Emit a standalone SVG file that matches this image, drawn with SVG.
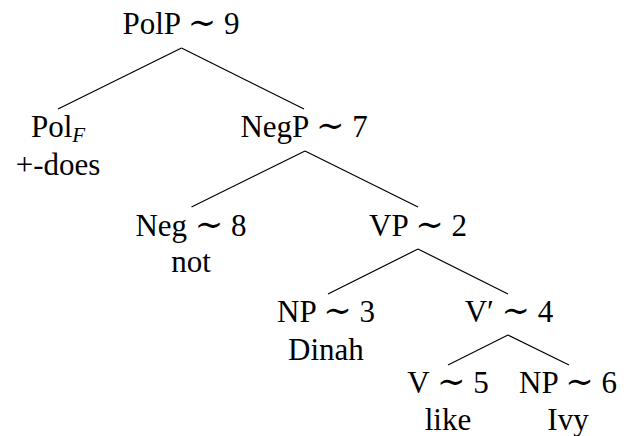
<svg xmlns="http://www.w3.org/2000/svg" width="629" height="436" viewBox="0 0 629 436">
<style>
text{font-size:31px;fill:#000;text-anchor:middle}
.sim{font-family:'DejaVu Serif',serif;font-size:34px}
.sub{font-style:italic;font-size:21px}
#edges line{stroke:#000;stroke-width:1.2}
</style>
<rect width="629" height="436" fill="#fff"/>
<g id="edges">
<line x1="181.5" y1="48" x2="58" y2="109"/>
<line x1="181.5" y1="48" x2="304" y2="109"/>
<line x1="305" y1="151" x2="191.5" y2="207"/>
<line x1="305" y1="151" x2="418" y2="207"/>
<line x1="418" y1="249" x2="328" y2="294"/>
<line x1="418" y1="249" x2="508" y2="294"/>
<line x1="508" y1="335" x2="448" y2="365"/>
<line x1="508" y1="335" x2="569" y2="365"/>
</g>
<g font-family="Liberation Serif, Times New Roman, serif">
<g id="PolP"><text x="181" y="34">PolP <tspan class="sim">∼</tspan> 9</text></g>
<g id="PolF"><text x="58" y="137">Pol<tspan class="sub" dy="5">F</tspan></text><text x="58" y="175">+-does</text></g>
<g id="NegP"><text x="304" y="137">NegP <tspan class="sim">∼</tspan> 7</text></g>
<g id="Neg"><text x="191" y="236">Neg <tspan class="sim">∼</tspan> 8</text><text x="191" y="272">not</text></g>
<g id="VP"><text x="418" y="236">VP <tspan class="sim">∼</tspan> 2</text></g>
<g id="NP3"><text x="326" y="322">NP <tspan class="sim">∼</tspan> 3</text><text x="326" y="360">Dinah</text></g>
<g id="Vbar"><text x="509" y="322">V′ <tspan class="sim">∼</tspan> 4</text></g>
<g id="V"><text x="448" y="393">V <tspan class="sim">∼</tspan> 5</text><text x="448" y="430">like</text></g>
<g id="NP6"><text x="568" y="393">NP <tspan class="sim">∼</tspan> 6</text><text x="568" y="430">Ivy</text></g>
</g>
</svg>
